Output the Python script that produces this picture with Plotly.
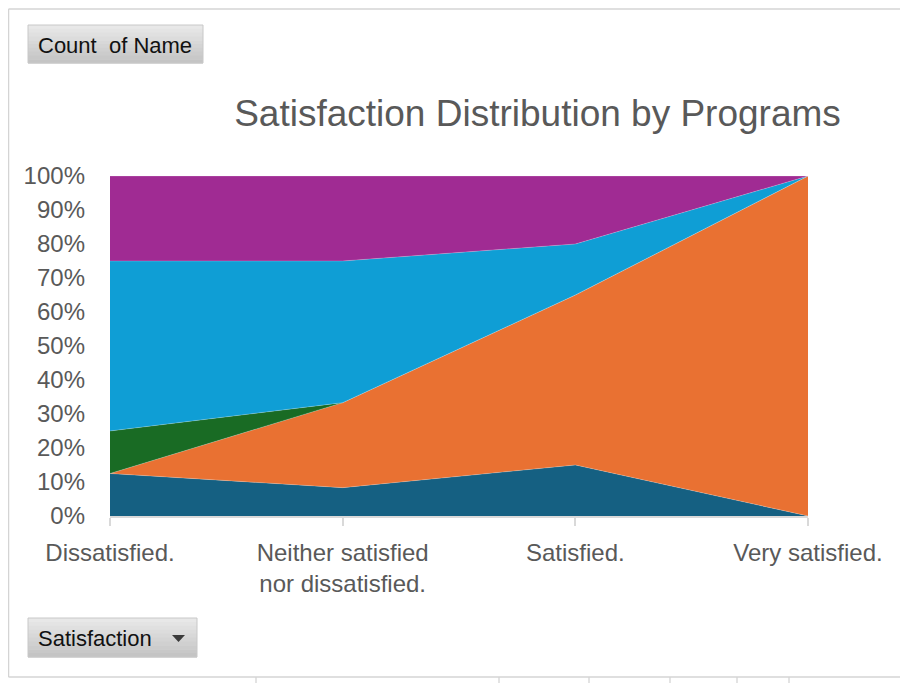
import plotly.graph_objects as go

# ---- data ----
categories = ["Dissatisfied.", "Neither satisfied<br>nor dissatisfied.", "Satisfied.", "Very satisfied."]
program_1 = [1, 1, 3, 0]
program_2 = [0, 3, 10, 5]
program_3 = [1, 0, 0, 0]
program_4 = [4, 5, 3, 0]
program_5 = [2, 3, 4, 0]
series_names = ["Program 1", "Program 2", "Program 3", "Program 4", "Program 5"]
series_colors = ["#156082", "#E97132", "#196B24", "#0F9ED5", "#A02B93"]
y_ticks = list(range(0, 101, 10))

# the page body adds an 8px margin, so work in page pixels and shift
OFF = 8
W, H = 900, 675
PL, PR, PT, PB = 110, 808, 176, 516  # plot area in page pixels

def xp(px):
    return (px - PL) / (PR - PL)

def yp(py):
    return (PB - py) / (PB - PT)

fig = go.Figure()
for name, vals, col in zip(series_names, [program_1, program_2, program_3, program_4, program_5], series_colors):
    fig.add_trace(go.Scatter(
        x=list(range(len(categories))), y=vals, name=name,
        mode="lines", stackgroup="one", groupnorm="percent",
        line=dict(width=0.6, color="rgba(255,255,255,0.35)"), fillcolor=col,
        hoverinfo="x+y+name",
    ))

shapes = []
grid_col = "#dadada"
# spreadsheet gridlines below the chart
for x in [256, 499, 589, 670, 737, 789]:
    shapes.append(dict(type="line", xref="paper", yref="paper", x0=xp(x), x1=xp(x), y0=yp(677), y1=yp(683),
                       line=dict(color=grid_col, width=1.5)))
# chart border (top, left, bottom)
bc = dict(color="#d4d4d4", width=1.5)
shapes.append(dict(type="line", xref="paper", yref="paper", x0=xp(8.5), x1=xp(908), y0=yp(9), y1=yp(9), line=bc))
shapes.append(dict(type="line", xref="paper", yref="paper", x0=xp(8.5), x1=xp(8.5), y0=yp(9), y1=yp(677), line=bc))
shapes.append(dict(type="line", xref="paper", yref="paper", x0=xp(8.5), x1=xp(908), y0=yp(677), y1=yp(677), line=bc))

# field buttons with a simple gradient
def button(x0, y0, x1, y1):
    n = 10
    h = (y1 - y0) / n
    for i in range(n):
        t = i / (n - 1)
        c = int(232 - t * (232 - 196))
        shapes.append(dict(type="rect", xref="paper", yref="paper", x0=xp(x0), x1=xp(x1),
                           y0=yp(y0 + i * h), y1=yp(y0 + (i + 1) * h + 0.5),
                           line=dict(width=0), fillcolor=f"rgb({c},{c},{c})"))
    shapes.append(dict(type="rect", xref="paper", yref="paper", x0=xp(x0), x1=xp(x1), y0=yp(y0), y1=yp(y1),
                       line=dict(color="#c8c8c8", width=1), fillcolor="rgba(0,0,0,0)"))

button(28, 25, 203, 63)
button(28, 618, 197, 657)
# dropdown triangle
shapes.append(dict(type="path", xref="paper", yref="paper",
                   path=f"M {xp(172)} {yp(635)} L {xp(185)} {yp(635)} L {xp(178.5)} {yp(642)} Z",
                   fillcolor="#3a3a3a", line=dict(width=0)))

annotations = [
    dict(text="Count  of Name", xref="paper", yref="paper", x=xp(36), y=yp(45), xanchor="left", yanchor="middle",
         showarrow=False, font=dict(family="Liberation Sans, Arial", size=22, color="#111111")),
    dict(text="Satisfaction", xref="paper", yref="paper", x=xp(36), y=yp(638), xanchor="left", yanchor="middle",
         showarrow=False, font=dict(family="Liberation Sans, Arial", size=22, color="#111111")),
]

fig.update_layout(
    width=W, height=H,
    margin=dict(l=PL - OFF, r=W + OFF - PR, t=PT - OFF, b=H + OFF - PB, pad=0),
    paper_bgcolor="white", plot_bgcolor="white",
    showlegend=False,
    title=dict(text="Satisfaction Distribution by Programs", x=(537.5 - OFF) / W, xanchor="center",
               y=1 - (113 - OFF) / H, yanchor="middle",
               font=dict(family="Liberation Sans, Arial", size=37, color="#595959")),
    font=dict(family="Liberation Sans, Arial", color="#595959"),
    shapes=shapes, annotations=annotations,
    xaxis=dict(
        tickmode="array", tickvals=list(range(len(categories))), ticktext=categories,
        range=[0, len(categories) - 1], showgrid=False, zeroline=False,
        showline=True, linecolor="#d9d9d9", linewidth=1.5,
        ticks="outside", ticklen=8, tickcolor="#d9d9d9", tickwidth=1.5,
        tickfont=dict(size=24, color="#595959"), ticklabelstandoff=6,
    ),
    yaxis=dict(
        range=[0, 100], tickmode="array", tickvals=y_ticks, ticktext=[f"{v}%" for v in y_ticks],
        showgrid=True, gridcolor="#e3e3e3", zeroline=False, showline=False, ticks="",
        tickfont=dict(size=24, color="#595959"), ticklabelstandoff=24,
    ),
)

fig.write_html("out.html")
